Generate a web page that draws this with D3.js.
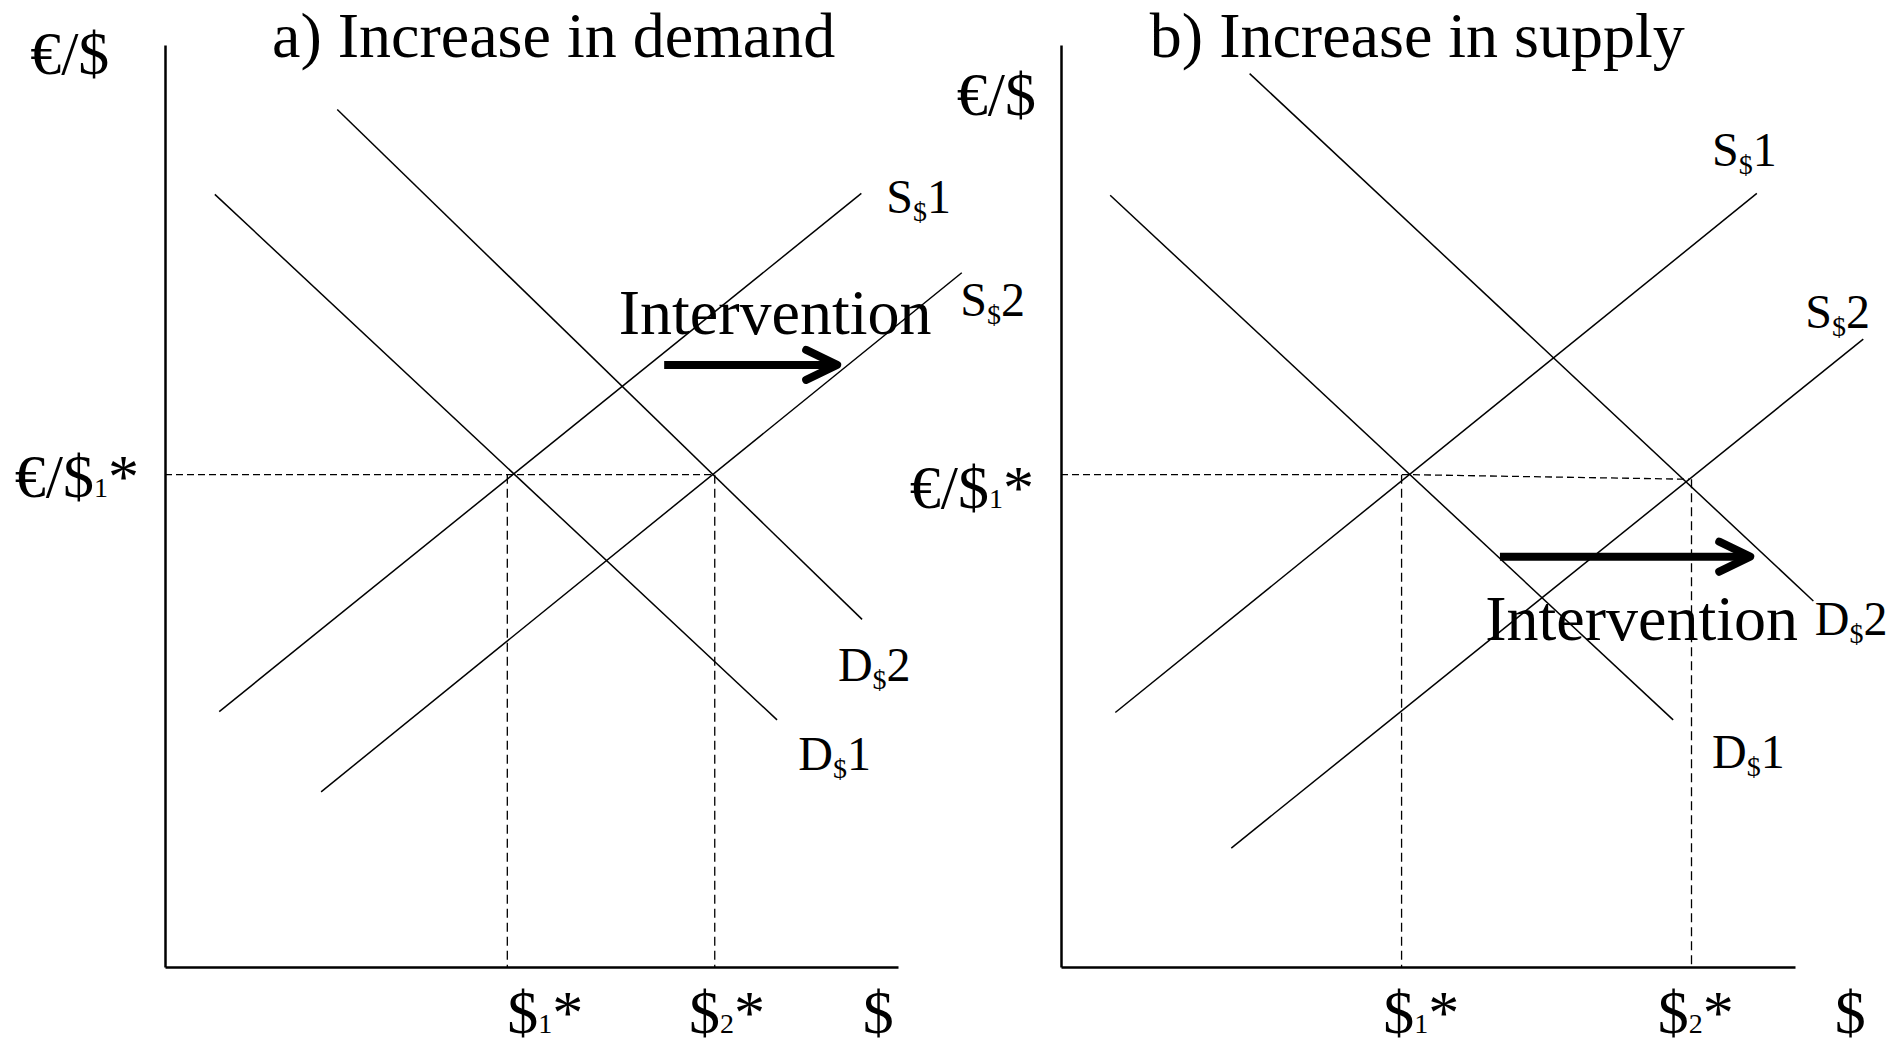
<!DOCTYPE html>
<html>
<head>
<meta charset="utf-8">
<script src="https://cdn.jsdelivr.net/npm/d3@7"></script>
<style>
  body { margin: 0; background: white; }
  text { font-family: 'Liberation Serif', 'Times New Roman', serif; fill: black; }
</style>
</head>
<body>
<div id="container"></div>
<script>
let w = 1903;
let h = 1051;

// both axes of each panel run 0..100 (chart units)
let panelTitles = ["a) Increase in demand", "b) Increase in supply"];
let rateName = "€/$";
let qtyName = "$";
let curveNames = ["S", "S", "D", "D"];
let curveNums = ["1", "2", "1", "2"];
let arrowText = "Intervention";

// panel a: demand shifts out
let supplyA1 = [[7.4, 27.7], [95.0, 83.9]];
let supplyA2 = [[21.3, 19.0], [108.7, 75.3]];
let demandA1 = [[6.8, 83.8], [83.5, 26.8]];
let demandA2 = [[23.5, 93.0], [95.1, 37.7]];
let guideA = [[0, 53.4], [75.0, 53.4]];
let eqQtyA = [46.7, 75.0];
let eqTopA = [53.4, 53.4];
let arrowA = [68.1, 91.7, 65.3];   // from, to, level

// panel b: supply shifts out
let supplyB1 = [[7.4, 27.6], [94.8, 83.9]];
let supplyB2 = [[23.2, 12.9], [109.3, 68.1]];
let demandB1 = [[6.7, 83.7], [83.4, 26.8]];
let demandB2 = [[25.7, 96.9], [102.5, 39.7]];
let guideB = [[0, 53.4], [47.4, 53.4], [85.6, 52.9]];
let eqQtyB = [46.4, 85.9];
let eqTopB = [53.4, 52.9];
let arrowB = [59.8, 93.9, 44.5];

let viz = d3.select('#container')
              .append("svg")
                .attr("width", w)
                .attr("height", h)
                .style("background-color", "white")
;

function multiText(g, parts, px, py) {
  let t = g.append("text")
              .attr("x", px)
              .attr("y", py)
  ;
  parts.forEach(function(p) {
    t.append("tspan")
        .text(p[0])
        .style("font-size", p[1] + "px")
        .attr("dy", p[2])
    ;
  });
  return t;
}

function drawPanel(p) {
  let x = d3.scaleLinear().domain([0, 100]).range([p.left, p.right]);
  let y = d3.scaleLinear().domain([0, 100]).range([967, 45]);
  let line = d3.line().x(d => x(d[0])).y(d => y(d[1]));

  let g = viz.append("g");

  //axes
  g.append("g")
      .attr("transform", "translate(0," + y(0) + ")")
      .call(d3.axisBottom(x).tickValues([]).tickSizeOuter(0))
      .select(".domain")
        .attr("stroke-width", 2.5)
  ;
  g.append("g")
      .attr("transform", "translate(" + x(0) + ",0)")
      .call(d3.axisLeft(y).tickValues([]).tickSizeOuter(0))
      .select(".domain")
        .attr("stroke-width", 2.5)
  ;

  //dashed guides
  g.append("path")
      .attr("d", line(p.guide))
      .attr("fill", "none")
      .attr("stroke", "black")
      .attr("stroke-width", 1.3)
      .attr("stroke-dasharray", "7,4")
  ;
  g.selectAll(".vguide").data(p.eqQty).enter()
    .append("path")
      .attr("class", "vguide")
      .attr("d", (d, i) => line([[d, p.eqTop[i]], [d, 0]]))
      .attr("fill", "none")
      .attr("stroke", "black")
      .attr("stroke-width", 1.3)
      .attr("stroke-dasharray", "9,5")
  ;

  //supply and demand curves
  g.selectAll(".curve").data(p.curves).enter()
    .append("path")
      .attr("class", "curve")
      .attr("d", d => line(d))
      .attr("fill", "none")
      .attr("stroke", "black")
      .attr("stroke-width", 1.5)
  ;

  //curve labels
  p.curveLabelPos.forEach(function(pos, i) {
    multiText(g, [[curveNames[i], 48, 0], ["$", 28, 8], [curveNums[i], 48, -8]], x(pos[0]), y(pos[1]));
  });

  //arrow
  let ax1 = x(p.arrow[0]);
  let ax2 = x(p.arrow[1]);
  let ay = y(p.arrow[2]);
  g.append("line")
      .attr("x1", ax1)
      .attr("x2", ax2 - 4)
      .attr("y1", ay)
      .attr("y2", ay)
      .attr("stroke", "black")
      .attr("stroke-width", 8)
  ;
  g.append("polyline")
      .attr("points", (ax2 - 31) + "," + (ay - 15) + " " + ax2 + "," + ay + " " + (ax2 - 31) + "," + (ay + 15))
      .attr("fill", "none")
      .attr("stroke", "black")
      .attr("stroke-width", 8)
      .attr("stroke-linecap", "round")
      .attr("stroke-linejoin", "round")
  ;
  g.append("text")
      .text(arrowText)
      .attr("x", x(p.arrowTextPos[0]))
      .attr("y", y(p.arrowTextPos[1]))
      .style("font-size", "64px")
  ;

  //titles and axis names
  g.append("text")
      .text(p.title)
      .attr("x", x(p.titlePos[0]))
      .attr("y", y(p.titlePos[1]))
      .style("font-size", "64px")
  ;
  g.append("text")
      .text(rateName)
      .attr("x", x(p.rateNamePos[0]))
      .attr("y", y(p.rateNamePos[1]))
      .style("font-size", "62px")
  ;
  multiText(g, [[rateName, 62, 0], ["1", 28, 0], ["*", 62, 0]], x(p.rateLabelPos[0]), y(p.rateLabelPos[1]));

  p.qtyLabelX.forEach(function(qx, i) {
    multiText(g, [[qtyName, 62, 0], [String(i + 1), 28, 0], ["*", 62, 0]], x(qx), y(-7.2));
  });
  g.append("text")
      .text(qtyName)
      .attr("x", x(p.qtyNameX))
      .attr("y", y(-7.2))
      .style("font-size", "62px")
  ;
}

drawPanel({
  left: 165, right: 898,
  title: panelTitles[0],
  curves: [supplyA1, supplyA2, demandA1, demandA2],
  guide: guideA, eqQty: eqQtyA, eqTop: eqTopA, arrow: arrowA,
  curveLabelPos: [[98.4, 81.8], [108.5, 70.6], [86.4, 21.4], [91.8, 31.0]],
  arrowTextPos: [61.9, 68.7],
  titlePos: [14.6, 98.7],
  rateNamePos: [-18.4, 96.9],
  rateLabelPos: [-20.5, 51.0],
  qtyLabelX: [46.7, 71.5],
  qtyNameX: 95.2
});

drawPanel({
  left: 1061, right: 1795,
  title: panelTitles[1],
  curves: [supplyB1, supplyB2, demandB1, demandB2],
  guide: guideB, eqQty: eqQtyB, eqTop: eqTopB, arrow: arrowB,
  curveLabelPos: [[88.7, 86.9], [101.4, 69.3], [88.7, 21.6], [102.7, 36.0]],
  arrowTextPos: [57.8, 35.5],
  titlePos: [12.1, 98.7],
  rateNamePos: [-14.2, 92.4],
  rateLabelPos: [-20.6, 49.8],
  qtyLabelX: [43.9, 81.3],
  qtyNameX: 105.4
});
</script>
</body>
</html>
